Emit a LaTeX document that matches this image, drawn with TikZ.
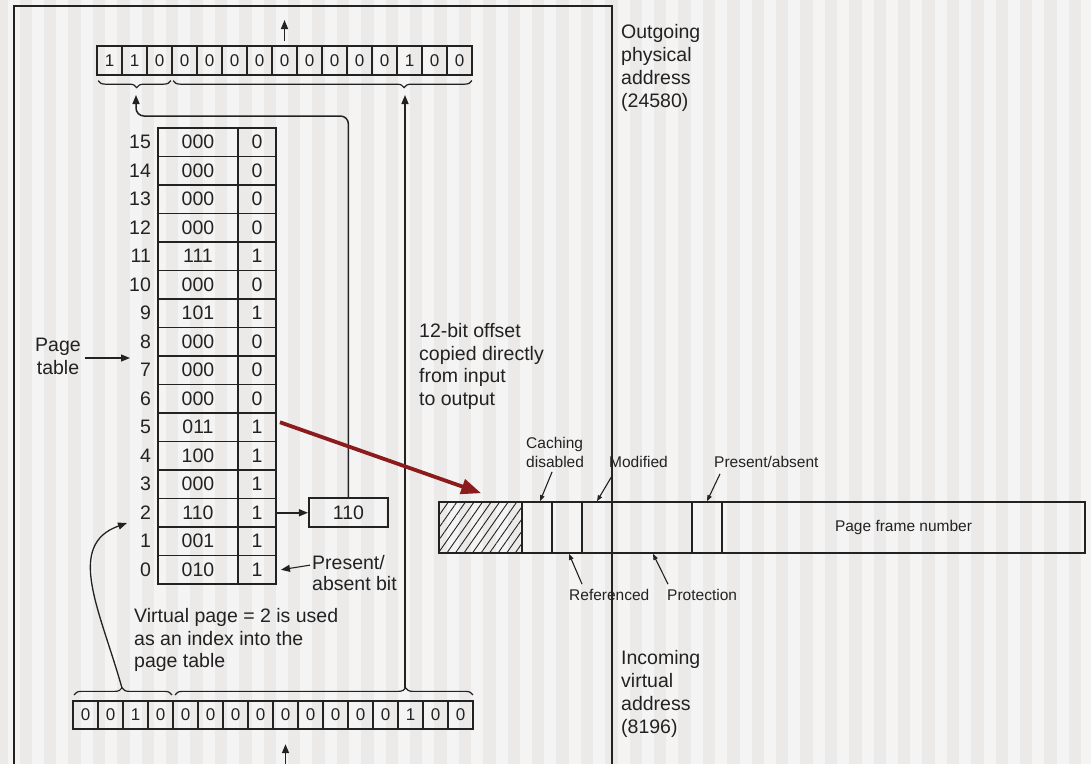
\documentclass[tikz,border=0pt]{standalone}
\usepackage{fontspec}
\setmainfont{Liberation Sans}
\usetikzlibrary{arrows.meta,positioning,calc,decorations.pathreplacing,patterns.meta}
\definecolor{ink}{HTML}{222222}
\definecolor{stripelight}{HTML}{F4F4F4}
\definecolor{stripedark}{HTML}{ECEAE9}
\definecolor{pointerred}{HTML}{8C1C1C}

\begin{document}
\begin{tikzpicture}[x=1pt, y=-1pt, font=\fontsize{19.5}{23}\selectfont, text=ink,
    cell/.style={draw=ink, line width=1.8pt, inner sep=0pt, minimum width=25pt, minimum height=28.5pt, font=\fontsize{17}{20}\selectfont},
    slot/.style={draw=ink, line width=1.9pt, inner sep=0pt, minimum height=28.5pt},
    arr/.style={draw=ink, line width=1.5pt, -{Triangle[length=9pt,width=7pt]}},
    thinarr/.style={draw=ink, line width=1.1pt, -{Triangle[length=6pt,width=4.5pt]}},
    bracket/.style={draw=ink, line width=1.2pt, decorate},
    ptelabel/.style={font=\fontsize{15.5}{19}\selectfont, inner sep=0pt, anchor=west, align=left},
    note/.style={inner sep=0pt, anchor=west, align=left}]

        % Background stripes
        \useasboundingbox (0,0) rectangle (1091,764);
        \fill[stripedark] (0,0) rectangle (1091,764);
        \foreach \k in {0,...,44} {
            \fill[stripelight] (7.6+24.4*\k,0) rectangle ++(12,764);
        }

        % MMU frame
        \draw[ink, line width=2.2pt] (14,764) -- (14,6) -- (612,6) -- (612,764);

        % Outgoing physical address
        \foreach \bit [count=\n from 0] in {1,1,0,0,0,0,0,0,0,0,0,0,1,0,0} {
            \node[cell] (out-\n) at (109.5+25*\n, 60.5) {\bit};
        }
        \coordinate (outtip) at (284.5,20);
        \draw[arr] ([yshift=4pt]out-7.north) -- (outtip);
        \draw[bracket, decoration={brace, amplitude=7pt, mirror, aspect=0.53}]
            ([xshift=2pt,yshift=-5pt]out-0.south west) -- ([xshift=-2pt,yshift=-5pt]out-2.south east);
        \draw[bracket, decoration={brace, amplitude=7pt, mirror, aspect=0.773}]
            ([xshift=2pt,yshift=-5pt]out-3.south west) -- ([xshift=-1pt,yshift=-5pt]out-14.south east);
        \coordinate (pfnout) at (136,87);
        \coordinate (offout) at (405,87);

        % Incoming virtual address
        \foreach \bit [count=\n from 0] in {0,0,1,0,0,0,0,0,0,0,0,0,0,1,0,0} {
            \node[cell] (in-\n) at (85.5+25*\n, 715) {\bit};
        }
        \coordinate (intail) at (285.5,764);
        \draw[arr] (intail) -- ([yshift=-14pt]in-8.south);
        \draw[bracket, decoration={brace, amplitude=7pt, aspect=0.49}]
            ([xshift=2pt,yshift=5pt]in-0.north west) -- ([xshift=-2pt,yshift=5pt]in-3.north east);
        \draw[bracket, decoration={brace, amplitude=7pt, aspect=0.774}]
            ([xshift=3pt,yshift=5pt]in-4.north west) -- ([xshift=-1pt,yshift=5pt]in-15.north east);
        \coordinate (vpnin) at (122,688);
        \coordinate (offin) at (405,688);

        % Page table
        \foreach \fr/\pb [count=\row from 0] in {010/1,001/1,110/1,000/1,100/1,011/1,000/0,000/0,000/0,101/1,000/0,111/1,000/0,000/0,000/0,000/0} {
            \node[slot, minimum width=80pt] (frame-\row) at (198, 569.75-28.5*\row) {\fr};
            \node[slot, minimum width=38pt] (bit-\row) at (257, 569.75-28.5*\row) {\pb};
            \node[inner sep=0pt, left=6pt of frame-\row] (idx-\row) {\row};
        }
        \node[align=center, inner sep=0pt] (ptname) at (58,356) {Page\\table};
        \coordinate (ptarrow) at (130,358);
        \draw[arr, line width=1.1pt] ([xshift=4pt,yshift=-2pt]ptname.east) -- (ptarrow);

        % Page frame out of the table
        \node[slot, minimum width=79pt, minimum height=29pt, right=31pt of bit-2] (pframe) {110};
        \draw[arr] (bit-2) -- (pframe);
        \draw[arr, rounded corners=8pt] (pframe.north) |- ([yshift=-29pt]pfnout) -- ([yshift=-8pt]pfnout);

        % Offset copied through
        \draw[arr] (offin) -- ([yshift=-8pt]offout);

        % Virtual page used as index
        \coordinate (vpntip) at (127,523);
        \draw[arr, line width=1.3pt] (vpnin) .. controls (100,610) and (65,545) .. (vpntip);

        % Notes
        \node[note, font=\fontsize{19.5}{21}\selectfont] (presbit) at (312,573) {Present/\\absent bit};
        \draw[arr, line width=1.1pt] ([xshift=-2pt,yshift=-10pt]presbit.north west) -- ([xshift=4pt]bit-0.east);
        \node[note, font=\fontsize{19.5}{22.5}\selectfont] (vpnote) at (134,640) {Virtual page = 2 is used\\as an index into the\\page table};
        \node[note, font=\fontsize{19.5}{22.5}\selectfont] (offnote) at (419,366.5) {12-bit offset\\copied directly\\from input\\to output};
        \node[note] (outnote) at (621,67.5) {Outgoing\\physical\\address\\(24580)};
        \node[note] (innote) at (621,694) {Incoming\\virtual\\address\\(8196)};

        % Page table entry
        \foreach \part/\xa/\xb in {unused/439/522, cache/522/552, ref/552/582, mod/582/612, prot/612/692, pres/692/722, frame/722/1085} {
            \node[draw=ink, line width=1.6pt, inner sep=0pt, minimum height=51pt, minimum width={(\xb-\xa)*1pt}] (pte-\part) at ({(\xa+\xb)/2}, 527.5) {};
        }
        \fill[pattern={Lines[angle=55,distance=7pt,line width=0.9pt]}, pattern color=ink]
            (pte-unused.north west) rectangle (pte-unused.south east);
        \node[font=\fontsize{15.5}{19}\selectfont] at (pte-frame) {Page frame number};

        \node[ptelabel] (cachelbl) at (526,452.5) {Caching\\disabled};
        \node[ptelabel] (modlbl) at (609,462) {Modified};
        \node[ptelabel] (preslbl) at (714,462) {Present/absent};
        \node[ptelabel] (reflbl) at (569,595) {Referenced};
        \node[ptelabel] (protlbl) at (667,595) {Protection};
        \draw[thinarr] ([xshift=-3pt,yshift=-4pt]cachelbl.south) -- ([xshift=3pt]pte-cache.north);
        \draw[thinarr] ([xshift=3pt,yshift=-8pt]modlbl.south west) -- (pte-mod.north);
        \draw[thinarr] ([xshift=6pt,yshift=-6pt]preslbl.south west) -- (pte-pres.north);
        \draw[thinarr] ([xshift=13pt,yshift=5pt]reflbl.north west) -- ([xshift=2pt]pte-ref.south);
        \draw[thinarr] ([xshift=1pt,yshift=5pt]protlbl.north west) -- ([xshift=1pt]pte-prot.south);

        % Pointer from table row to entry layout
        \draw[pointerred, line width=3.8pt, -{Triangle[length=20pt,width=15pt]}]
            ([xshift=3pt,yshift=5pt]bit-5.east) -- ([xshift=43pt,yshift=8pt]pte-unused.north west);
    \end{tikzpicture}
\end{document}
